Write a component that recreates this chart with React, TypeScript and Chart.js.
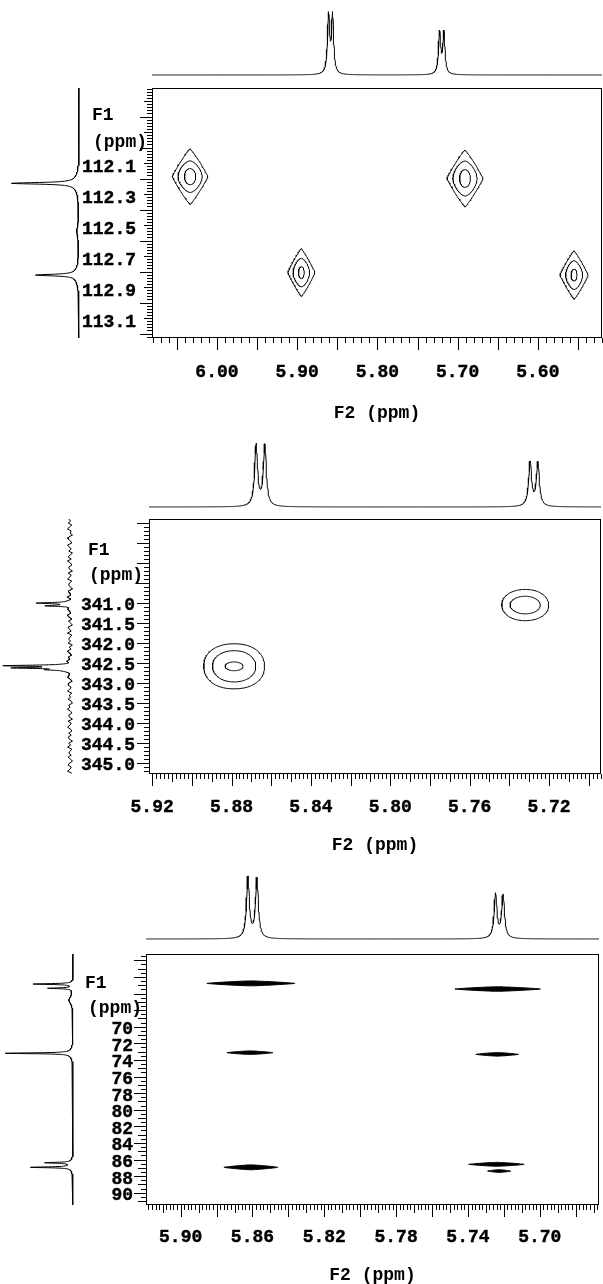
import React, { useEffect, useRef } from 'react';
import { Chart, registerables } from 'chart.js';

Chart.register(...registerables);
Chart.defaults.color = '#000';

type Peak = [number, number, number]; // position (ppm), amplitude (% of tallest), half-width (ppm)
type Level = [number, number, number]; // F2 half-width (ppm), F1 half-width (ppm), squareness

// ---------------- Panel 1 ----------------
const p1F2Range = [5.52, 6.081];
const p1F1Range = [111.616, 113.229];
const p1F2Labels = [6.0, 5.9, 5.8, 5.7, 5.6];
const p1F1Labels = [112.1, 112.3, 112.5, 112.7, 112.9, 113.1];
const p1F2Proj: Peak[] = [[5.8609, 92, 0.0016], [5.8559, 92, 0.0016], [5.7225, 66, 0.0016], [5.7171, 66, 0.0016]];
const p1F1Proj: Peak[] = [[112.231, 93, 0.006], [112.231, 7, 0.05], [112.823, 58, 0.006], [112.823, 6, 0.05], [112.54, 3, 0.04]];
const p1CrossF2 = [6.0335, 5.6908, 5.8948, 5.5548];
const p1CrossF1 = [112.188, 112.2, 112.807, 112.823];
const p1Levels: Level[][] = [
  [[0.0221, 0.18, 1.1], [0.0151, 0.102, 1.6], [0.007, 0.052, 2]],
  [[0.0224, 0.184, 1.1], [0.0151, 0.113, 1.6], [0.0067, 0.057, 2]],
  [[0.0168, 0.155, 1.1], [0.0103, 0.092, 1.6], [0.0036, 0.038, 2]],
  [[0.0175, 0.157, 1.1], [0.0106, 0.093, 1.6], [0.0037, 0.038, 2]],
];

// ---------------- Panel 2 ----------------
const p2F2Range = [5.6938, 5.9216];
const p2F1Range = [338.91, 345.28];
const p2F2Labels = [5.92, 5.88, 5.84, 5.8, 5.76, 5.72];
const p2F1Labels = [341.0, 341.5, 342.0, 342.5, 343.0, 343.5, 344.0, 344.5, 345.0];
const p2F2Proj: Peak[] = [[5.8676, 96, 0.0009], [5.8632, 95, 0.0009], [5.7295, 69, 0.0009], [5.7256, 68, 0.0009]];
const p2F1Proj: Peak[] = [[341.01, 54, 0.015], [341.08, 38, 0.015], [342.575, 100, 0.015], [342.63, 86, 0.015], [342.675, 32, 0.015]];
const p2F1Noise = [
  2, -1, 3, -3, 1, 4, -2, 0, -4, 2, 3, -1, -3, 4, 1, -2, 2, -4, 0, 3, -2, 4, -1, -3, 2, 1, -4, 3, -2, 0,
  4, -3, 1, 2, -1, -4, 3, 0, -2, 4, -3, 1, -1, 3, -4, 2, 0, -2, 4, 1, -3, 2, -1, -4, 3, 1, -2, 4, -3, 0,
  2, -1, 3, -4, 1, -2, 4, 0, -3, 2, -1, 3, -4, 2, 1, -3, 4, -2, 0, 3, -1, -4, 2, 3, -2, 0, 4, -3, 1, -1,
  3, -2, -4, 2, 0, 4, -1, -3, 2, 1, -4, 3, -2, 0, 4, -1, -3, 2, -2, 3, 1, -4, 2, -1, 4, -3, 0, 2, -2, 3,
  -1, -4, 1, 3, -2, 0, 4, -3, 2, -1,
];
const p2CrossF2 = [5.8787, 5.732];
const p2CrossF1 = [342.59, 341.06];
const p2Levels: Level[][] = [
  [[0.0153, 0.5625, 2.2], [0.0109, 0.39, 2.1], [0.0045, 0.11, 2]],
  [[0.0118, 0.39, 2.1], [0.0076, 0.22, 2]],
];

// ---------------- Panel 3 ----------------
const p3F2Range = [5.667, 5.9193];
const p3F1Range = [61.24, 91.48];
const p3F2Labels = [5.9, 5.86, 5.82, 5.78, 5.74, 5.7];
const p3F1Labels = [70, 72, 74, 76, 78, 80, 82, 84, 86, 88, 90];
const p3F2Proj: Peak[] = [[5.8625, 96, 0.00095], [5.8575, 94, 0.00095], [5.7246, 69, 0.00095], [5.7204, 67, 0.00095]];
const p3F1Proj: Peak[] = [[64.86, 58, 0.06], [65.37, 36, 0.06], [66.8, 6, 0.5], [73.2, 96, 0.06], [73.2, 4, 0.6], [86.39, 38, 0.06], [86.94, 59, 0.06], [86.7, 4, 0.6]];
const p3CrossF2 = [5.8609, 5.7234, 5.8614, 5.7237, 5.8609, 5.7241, 5.7226];
const p3CrossF1 = [64.78, 65.46, 73.13, 73.33, 86.94, 86.58, 87.39];
const p3Levels: Level[][] = [
  [[0.0245, 0.3, 1.2]], [[0.0238, 0.28, 1.2]], [[0.0128, 0.22, 1.2]], [[0.0119, 0.22, 1.2]],
  [[0.015, 0.3, 1.2]], [[0.0155, 0.24, 1.2]], [[0.0064, 0.17, 1.2]],
];

const F1_TEXT = 'F1';
const PPM_TEXT = '(ppm)';
const F2_TITLE = 'F2 (ppm)';

const FONT = "'Liberation Mono', 'DejaVu Sans Mono', monospace";
const W = 603;

interface Lay {
  top: number; height: number; box: { l: number; t: number; r: number; b: number };
  xPad: number; yPad: number; yOff: number; topTip: number; topBase: number; leftTip: number; leftBase: number;
  f1: number[]; ppm: number[];
}
interface PanelCfg {
  f2Range: number[]; f1Range: number[]; f2Labels: number[]; f1Labels: number[]; f2Dec: number; f1Dec: number;
  f2Proj: Peak[]; f1Proj: Peak[]; f2Step: number; f1Step: number; f1Noise?: number[]; noiseStep?: number;
  crossF2: number[]; crossF1: number[]; levels: Level[][]; filled: boolean;
  f2Ticks: number[]; f1Ticks: number[]; lay: Lay;
}

const PANELS: PanelCfg[] = [
  {
    f2Range: p1F2Range, f1Range: p1F1Range, f2Labels: p1F2Labels, f1Labels: p1F1Labels, f2Dec: 2, f1Dec: 1,
    f2Proj: p1F2Proj, f1Proj: p1F1Proj, f2Step: 0.0003, f1Step: 0.0012,
    crossF2: p1CrossF2, crossF1: p1CrossF1, levels: p1Levels, filled: false,
    f2Ticks: [0.01, 0.05, 0.05], f1Ticks: [0.02, 0.1, 0.2],
    lay: { top: 0, height: 422, box: { l: 152, t: 88, r: 602, b: 338 }, xPad: 24, yPad: 16, yOff: 4,
      topTip: 12, topBase: 75, leftTip: 11, leftBase: 79, f1: [92, 115], ppm: [93, 142] },
  },
  {
    f2Range: p2F2Range, f1Range: p2F1Range, f2Labels: p2F2Labels, f1Labels: p2F1Labels, f2Dec: 2, f1Dec: 1,
    f2Proj: p2F2Proj, f1Proj: p2F1Proj, f2Step: 0.0002, f1Step: 0.003, f1Noise: p2F1Noise, noiseStep: 0.05,
    crossF2: p2CrossF2, crossF1: p2CrossF1, levels: p2Levels, filled: false,
    f2Ticks: [0.002, 0.01, 0.02], f1Ticks: [0.1, 0.5, 0.5],
    lay: { top: 420, height: 434, box: { l: 149, t: 519, r: 601, b: 774 }, xPad: 23, yPad: 14, yOff: 3,
      topTip: 443, topBase: 507, leftTip: 8, leftBase: 70, f1: [88, 550], ppm: [89, 575] },
  },
  {
    f2Range: p3F2Range, f1Range: p3F1Range, f2Labels: p3F2Labels, f1Labels: p3F1Labels, f2Dec: 2, f1Dec: 0,
    f2Proj: p3F2Proj, f1Proj: p3F1Proj, f2Step: 0.0002, f1Step: 0.012,
    crossF2: p3CrossF2, crossF1: p3CrossF1, levels: p3Levels, filled: true,
    f2Ticks: [0.002, 0.01, 0.02], f1Ticks: [0.5, 1, 2],
    lay: { top: 840, height: 444, box: { l: 146, t: 954, r: 599, b: 1205 }, xPad: 22, yPad: 13, yOff: 3,
      topTip: 875, topBase: 939, leftTip: 5, leftBase: 73, f1: [85, 983], ppm: [88, 1008] },
  },
];

function spectrumPoints(lo: number, hi: number, peaks: Peak[], step: number, noise?: number[], noiseStep?: number) {
  const xs: number[] = [];
  if (noise && noiseStep) {
    for (let i = 0; lo + i * noiseStep <= hi + 1e-9; i++) xs.push(lo + i * noiseStep);
    for (const [p, , w] of peaks) {
      for (let x = p - 25 * w; x <= p + 25 * w; x += step) if (x > lo && x < hi) xs.push(x);
    }
    xs.sort((a, b) => a - b);
  } else {
    for (let x = lo; x <= hi + 1e-12; x += step) xs.push(x);
  }
  return xs.map((x) => {
    let v = 0;
    for (const [p, a, w] of peaks) {
      const d = (x - p) / w;
      v += a / (1 + d * d);
    }
    if (noise && noiseStep) {
      const f = (x - lo) / noiseStep;
      const i = Math.max(0, Math.min(Math.floor(f), noise.length - 2));
      const t = Math.min(1, f - i);
      v += noise[i] * (1 - t) + noise[i + 1] * t;
    }
    return { pos: x, val: v };
  });
}

function outline(cx: number, cy: number, rx: number, ry: number, n: number) {
  const pts: { x: number; y: number }[] = [];
  const steps = 120;
  for (let i = 0; i <= steps; i++) {
    const t = (i / steps) * 2 * Math.PI;
    const c = Math.cos(t), s = Math.sin(t);
    pts.push({
      x: cx + rx * Math.sign(c) * Math.pow(Math.abs(c), 2 / n),
      y: cy + ry * Math.sign(s) * Math.pow(Math.abs(s), 2 / n),
    });
  }
  return pts;
}

function framePlugin(cfg: PanelCfg) {
  return {
    id: 'nmrFrame',
    afterDraw(chart: any) {
      const { ctx, chartArea: a, scales } = chart;
      const L = cfg.lay;
      ctx.save();
      ctx.strokeStyle = '#000';
      ctx.lineWidth = 1;
      ctx.strokeRect(a.left + 0.5, a.top + 0.5, a.right - a.left - 1, a.bottom - a.top - 1);
      const drawTicks = (scale: any, spec: number[], horizontal: boolean) => {
        const [minor, medium, major] = spec;
        const kMed = Math.round(medium / minor), kMaj = Math.round(major / minor);
        const k0 = Math.ceil(scale.min / minor - 1e-6), k1 = Math.floor(scale.max / minor + 1e-6);
        ctx.beginPath();
        for (let k = k0; k <= k1; k++) {
          const len = k % kMaj === 0 ? 12 : k % kMed === 0 ? 8 : 5;
          const p = Math.round(scale.getPixelForValue(k * minor)) + 0.5;
          if (horizontal) { ctx.moveTo(p, a.bottom); ctx.lineTo(p, a.bottom + len); }
          else { ctx.moveTo(a.left, p); ctx.lineTo(a.left - len, p); }
        }
        ctx.stroke();
      };
      drawTicks(scales.x, cfg.f2Ticks, true);
      drawTicks(scales.y, cfg.f1Ticks, false);
      ctx.font = `bold 18px ${FONT}`;
      ctx.fillStyle = '#000';
      ctx.textAlign = 'left';
      ctx.textBaseline = 'middle';
      ctx.fillText(F1_TEXT, L.f1[0], L.f1[1] - L.top);
      ctx.fillText(PPM_TEXT, L.ppm[0], L.ppm[1] - L.top);
      ctx.restore();
    },
  };
}

const tickFont = { family: FONT, size: 18, weight: 'bold' as const };

function makeMain(canvas: HTMLCanvasElement, cfg: PanelCfg) {
  const L = cfg.lay;
  const datasets: any[] = [];
  cfg.levels.forEach((lv, i) => {
    lv.forEach(([rx, ry, n]) => {
      datasets.push({
        data: outline(cfg.crossF2[i], cfg.crossF1[i], rx, ry, n),
        showLine: true, borderColor: '#000', borderWidth: 1, pointRadius: 0,
        backgroundColor: '#000', fill: cfg.filled ? 'shape' : false,
      });
    });
  });
  return new Chart(canvas, {
    type: 'scatter',
    data: { datasets },
    plugins: [framePlugin(cfg)],
    options: {
      animation: false, responsive: false, devicePixelRatio: 1, events: [],
      layout: { padding: { top: L.box.t - L.top, right: W - L.box.r, left: 0, bottom: 0 } },
      plugins: { legend: { display: false }, tooltip: { enabled: false } },
      scales: {
        x: {
          type: 'linear', min: cfg.f2Range[0], max: cfg.f2Range[1], reverse: true,
          grid: { display: false, drawTicks: false }, border: { display: false },
          afterBuildTicks: (s: any) => { s.ticks = cfg.f2Labels.map((v) => ({ value: v })); },
          afterFit: (s: any) => { s.height = L.top + L.height - L.box.b; },
          ticks: {
            autoSkip: false, maxRotation: 0, minRotation: 0, padding: L.xPad, color: '#000', font: tickFont,
            textStrokeColor: '#000', textStrokeWidth: 0.4,
            callback: (v: any) => Number(v).toFixed(cfg.f2Dec),
          },
          title: { display: true, text: F2_TITLE, color: '#000', font: { ...tickFont, lineHeight: 1 }, padding: 0 },
        },
        y: {
          type: 'linear', min: cfg.f1Range[0], max: cfg.f1Range[1], reverse: true,
          grid: { display: false, drawTicks: false }, border: { display: false },
          afterBuildTicks: (s: any) => { s.ticks = cfg.f1Labels.map((v) => ({ value: v })); },
          afterFit: (s: any) => { s.width = L.box.l; },
          ticks: {
            autoSkip: false, padding: L.yPad, labelOffset: L.yOff, color: '#000', font: tickFont,
            textStrokeColor: '#000', textStrokeWidth: 0.4,
            callback: (v: any) => Number(v).toFixed(cfg.f1Dec),
          },
        },
      },
    } as any,
  });
}

function makeTop(canvas: HTMLCanvasElement, cfg: PanelCfg, h: number) {
  const L = cfg.lay;
  const pts = spectrumPoints(cfg.f2Range[0], cfg.f2Range[1], cfg.f2Proj, cfg.f2Step);
  return new Chart(canvas, {
    type: 'scatter',
    data: {
      datasets: [{
        data: pts.map((p) => ({ x: p.pos, y: p.val })),
        showLine: true, borderColor: '#000', borderWidth: 1, pointRadius: 0, clip: false,
      }],
    },
    options: {
      animation: false, responsive: false, devicePixelRatio: 1, events: [],
      layout: { padding: { top: 10, bottom: h - 10 - (L.topBase - L.topTip), left: L.box.l, right: W - L.box.r } },
      plugins: { legend: { display: false }, tooltip: { enabled: false } },
      scales: {
        x: { type: 'linear', display: false, min: cfg.f2Range[0], max: cfg.f2Range[1], reverse: true },
        y: { type: 'linear', display: false, min: 0, max: 100 },
      },
    } as any,
  });
}

function makeLeft(canvas: HTMLCanvasElement, cfg: PanelCfg, w: number) {
  const L = cfg.lay;
  const pts = spectrumPoints(cfg.f1Range[0], cfg.f1Range[1], cfg.f1Proj, cfg.f1Step, cfg.f1Noise, cfg.noiseStep);
  return new Chart(canvas, {
    type: 'scatter',
    data: {
      datasets: [{
        data: pts.map((p) => ({ x: p.val, y: p.pos })),
        showLine: true, borderColor: '#000', borderWidth: 1, pointRadius: 0, clip: false,
      }],
    },
    options: {
      animation: false, responsive: false, devicePixelRatio: 1, events: [],
      layout: { padding: { top: 0, bottom: 0, left: L.leftTip, right: w - L.leftBase } },
      plugins: { legend: { display: false }, tooltip: { enabled: false } },
      scales: {
        x: { type: 'linear', display: false, min: 0, max: 100, reverse: true },
        y: { type: 'linear', display: false, min: cfg.f1Range[0], max: cfg.f1Range[1], reverse: true },
      },
    } as any,
  });
}

function Panel({ cfg }: { cfg: PanelCfg }) {
  const mainRef = useRef<HTMLCanvasElement>(null);
  const topRef = useRef<HTMLCanvasElement>(null);
  const leftRef = useRef<HTMLCanvasElement>(null);
  const L = cfg.lay;
  const topCanvasTop = L.topTip - 10;
  const topH = L.topBase - L.topTip + 16;
  const leftW = L.box.l - 14;
  const leftH = L.box.b - L.box.t;
  useEffect(() => {
    const charts = [
      makeMain(mainRef.current!, cfg),
      makeTop(topRef.current!, cfg, topH),
      makeLeft(leftRef.current!, cfg, leftW),
    ];
    return () => charts.forEach((c) => c.destroy());
  }, [cfg]);
  return (
    <>
      <canvas ref={mainRef} width={W} height={L.height}
        style={{ position: 'absolute', left: 0, top: L.top, width: W, height: L.height }} />
      <canvas ref={topRef} width={W} height={topH}
        style={{ position: 'absolute', left: 0, top: topCanvasTop, width: W, height: topH }} />
      <canvas ref={leftRef} width={leftW} height={leftH}
        style={{ position: 'absolute', left: 0, top: L.box.t, width: leftW, height: leftH }} />
    </>
  );
}

export default function App() {
  useEffect(() => {
    document.body.style.margin = '0';
    document.body.style.overflow = 'hidden';
  }, []);
  return (
    <div style={{ position: 'absolute', left: 0, top: 0, width: W, height: 1284, overflow: 'hidden', background: '#fff' }}>
      {PANELS.map((p, i) => <Panel key={i} cfg={p} />)}
    </div>
  );
}
